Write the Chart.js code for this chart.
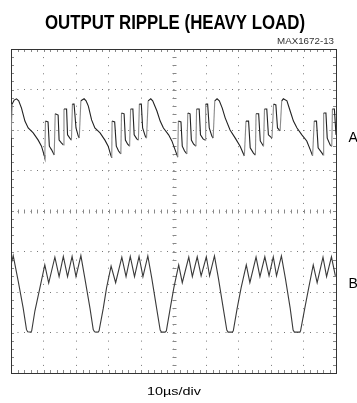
<!DOCTYPE html>
<html>
<head>
<meta charset="utf-8">
<script src="https://cdn.jsdelivr.net/npm/chart.js@4.4.0/dist/chart.umd.min.js"></script>
<style>
  html, body { margin: 0; padding: 0; background: #fff; }
  canvas { display: block; }
</style>
</head>
<body>
<canvas id="ripple" width="357" height="403"></canvas>
<script>
// trace A: time in us, level in divisions (0 = bottom of screen)
let timeA = [0, 0.37, 0.98, 1.69, 2.37, 3.23, 4.28, 5.29, 6.83, 8.37, 9.38, 10.2, 10.4,
    10.6, 11.4, 11.8, 12.5, 13.3,
    13.6, 14.5, 14.8, 15.5, 16.1,
    16.3, 17.1, 17.4, 18.1, 18.6,
    18.9, 19.4, 20.0, 20.7, 21.0,
    21.5, 22.5, 23.1, 23.8, 24.8, 25.8, 27.4, 28.9, 29.9, 30.7, 31.0,
    31.1, 31.9, 32.4, 33.1, 33.8,
    34.0, 34.8, 35.2, 35.9, 36.5,
    36.8, 37.5, 37.9, 38.7, 39.2,
    39.5, 40.1, 40.5, 41.3, 41.7,
    42.2, 43.0, 43.6, 44.9, 45.9, 46.9, 48.5, 49.5, 50.5, 51.3,
    51.5, 52.3, 52.7, 53.4, 54.1,
    54.4, 55.1, 55.5, 56.2, 56.9,
    57.1, 57.9, 58.3, 59.1, 59.7,
    59.9, 60.5, 61.0, 61.8, 62.2,
    62.7, 63.4, 64.1, 65.0, 65.9, 67.4, 69.0, 70.5, 71.8,
    72.3, 73.1, 73.6, 74.6, 75.2,
    75.4, 76.2, 76.7, 77.7,
    78.0, 78.7, 79.2, 80.3,
    80.8, 81.5, 82.0, 82.8,
    83.3, 83.8, 84.9, 85.9, 86.9, 88.0, 89.5, 91.0, 92.1, 92.8,
    93.3, 94.0, 94.5, 95.7, 96.1,
    96.2, 96.9, 97.3, 98.2, 98.7,
    98.9, 99.5, 100];
let levelA = [5.80, 6.64, 6.74, 6.77, 6.72, 6.54, 6.22, 6.05, 5.93, 5.75, 5.60, 5.38, 5.31,
    6.22, 6.20, 5.60, 5.51, 5.38,
    6.40, 6.37, 5.75, 5.68, 5.63,
    6.52, 6.52, 5.88, 5.80, 5.75,
    6.64, 6.64, 6.05, 5.85, 5.80,
    6.72, 6.77, 6.72, 6.59, 6.25, 6.05, 5.93, 5.75, 5.60, 5.38, 5.31,
    6.22, 6.20, 5.60, 5.48, 5.41,
    6.42, 6.40, 5.75, 5.65, 5.60,
    6.52, 6.52, 5.88, 5.78, 5.75,
    6.64, 6.64, 6.05, 5.85, 5.80,
    6.72, 6.77, 6.72, 6.47, 6.22, 6.05, 5.88, 5.73, 5.51, 5.33,
    6.22, 6.20, 5.60, 5.48, 5.41,
    6.42, 6.40, 5.75, 5.65, 5.60,
    6.52, 6.52, 5.88, 5.78, 5.75,
    6.64, 6.64, 6.05, 5.85, 5.80,
    6.72, 6.77, 6.72, 6.54, 6.30, 6.00, 5.80, 5.60, 5.36,
    6.22, 6.22, 5.56, 5.43, 5.38,
    6.40, 6.40, 5.73, 5.60,
    6.52, 6.52, 5.88, 5.80,
    6.64, 6.62, 6.05, 5.98,
    6.72, 6.77, 6.72, 6.47, 6.22, 6.05, 5.88, 5.73, 5.51, 5.36,
    6.22, 6.22, 5.56, 5.43, 5.38,
    6.42, 6.42, 5.80, 5.63, 5.60,
    6.52, 6.52, 5.88];

// trace B
let timeB = [0, 0.68, 2.22, 3.75, 4.77, 5.14, 6.12, 6.37, 7.35, 8.89,
    10.4, 11.6, 13.5, 14.8, 16.1, 17.4, 18.8, 20.0, 21.5,
    22.7, 24.3, 25.3, 25.7, 26.8, 27.1, 28.4, 29.4,
    30.8, 32.2, 34.1, 35.4, 36.7, 38.0, 39.4, 40.6, 42.1,
    43.3, 44.8, 45.9, 46.3, 47.4, 47.8, 49.0, 50.1,
    51.6, 52.7, 54.7, 55.8, 57.3, 58.5, 60.1, 61.1, 62.6,
    63.8, 65.3, 66.4, 66.8, 68.1, 68.4, 69.6, 70.8,
    72.4, 73.5, 75.4, 76.6, 78.1, 79.4, 80.7, 81.7, 83.2,
    84.4, 85.9, 86.8, 87.2, 88.9, 89.1, 90.4, 91.6,
    93.0, 94.2, 96.0, 97.1, 98.6, 99.8];
let levelB = [2.67, 2.90, 2.27, 1.60, 1.07, 1.02, 1.01, 1.04, 1.53, 2.10,
    2.67, 2.22, 2.86, 2.38, 2.88, 2.38, 2.88, 2.38, 2.90,
    2.35, 1.60, 1.07, 1.02, 1.01, 1.04, 1.60, 2.10,
    2.64, 2.23, 2.86, 2.38, 2.88, 2.38, 2.88, 2.38, 2.89,
    2.35, 1.60, 1.06, 1.01, 1.01, 1.04, 1.60, 2.10,
    2.67, 2.23, 2.86, 2.38, 2.87, 2.40, 2.87, 2.40, 2.89,
    2.35, 1.60, 1.06, 1.01, 1.01, 1.04, 1.60, 2.10,
    2.67, 2.23, 2.86, 2.38, 2.87, 2.40, 2.87, 2.40, 2.89,
    2.35, 1.60, 1.06, 1.01, 1.01, 1.04, 1.60, 2.10,
    2.67, 2.23, 2.86, 2.38, 2.87, 2.40];

let title = 'OUTPUT RIPPLE (HEAVY LOAD)';
let figureId = 'MAX1672-13';
let timebase = '10\u00b5s/div';
let traceLabels = ['A', 'B'];
let traceLabelLevels = [5.8, 2.2];

function toPoints(xs, ys) {
    return xs.map((x, i) => ({ x: x, y: ys[i] }));
}

// squeeze a text into a given width (the original uses a narrow face)
function fitText(ctx, str, font, x, y, width) {
    ctx.font = font;
    let w = ctx.measureText(str).width;
    ctx.save();
    ctx.translate(x, y);
    ctx.scale(width / w, 1);
    ctx.textAlign = 'left';
    ctx.textBaseline = 'alphabetic';
    ctx.fillText(str, 0, 0);
    ctx.restore();
}

const scopeDecor = {
    id: 'scopeDecor',
    beforeDatasetsDraw(chart) {
        let ctx = chart.ctx;
        let a = chart.chartArea;
        let xs = chart.scales.x;
        let ys = chart.scales.y;
        ctx.save();
        ctx.strokeStyle = '#888';
        ctx.lineWidth = 1;
        ctx.beginPath();
        let cy = Math.round(ys.getPixelForValue(4)) + 0.5;
        for (let i = 0; i <= 50; i++) {
            let px = Math.round(xs.getPixelForValue(i * 2)) + 0.5;
            ctx.moveTo(px, a.top); ctx.lineTo(px, a.top + 3);
            ctx.moveTo(px, a.bottom); ctx.lineTo(px, a.bottom - 3);
            ctx.moveTo(px, cy - 2); ctx.lineTo(px, cy + 2);
        }
        let cx = Math.round(xs.getPixelForValue(50)) + 0.5;
        for (let i = 0; i <= 40; i++) {
            let py = Math.round(ys.getPixelForValue(i / 5)) + 0.5;
            ctx.moveTo(a.left, py); ctx.lineTo(a.left + 3, py);
            ctx.moveTo(a.right, py); ctx.lineTo(a.right - 3, py);
            ctx.moveTo(cx - 2, py); ctx.lineTo(cx + 2, py);
        }
        ctx.stroke();
        ctx.strokeStyle = '#333';
        ctx.strokeRect(Math.round(a.left) + 0.5, Math.round(a.top) + 0.5,
            Math.round(a.right - a.left), Math.round(a.bottom - a.top));
        ctx.restore();
    },
    afterDraw(chart) {
        let ctx = chart.ctx;
        let ys = chart.scales.y;
        ctx.save();
        ctx.fillStyle = '#000';
        fitText(ctx, title, 'bold 19.5px "Liberation Sans"', 45, 29, 260);
        ctx.fillStyle = '#333';
        fitText(ctx, figureId, '8.5px "Liberation Sans"', 277, 43.5, 57);
        ctx.fillStyle = '#000';
        fitText(ctx, timebase, '11.5px "Liberation Sans"', 147, 395, 54);
        ctx.font = '14px "Liberation Sans"';
        ctx.textBaseline = 'middle';
        ctx.textAlign = 'left';
        traceLabels.forEach((t, i) => {
            ctx.fillText(t, chart.chartArea.right + 12.5, ys.getPixelForValue(traceLabelLevels[i]));
        });
        ctx.restore();
    }
};

let ctx = document.getElementById('ripple').getContext('2d');
new Chart(ctx, {
    type: 'line',
    data: {
        datasets: [{
            label: 'A',
            data: toPoints(timeA, levelA),
            borderColor: '#222',
            borderWidth: 1.1,
            pointRadius: 0,
            tension: 0,
            segment: {
                // fast rising edges look fainter on the scope
                borderColor: c => (c.p1.parsed.y - c.p0.parsed.y > 0.4 && c.p1.parsed.x - c.p0.parsed.x < 0.7) ? '#8a8a8a' : '#222'
            }
        }, {
            label: 'B',
            data: toPoints(timeB, levelB),
            borderColor: '#3a3a3a',
            borderWidth: 1.1,
            pointRadius: 0,
            tension: 0
        }]
    },
    options: {
        responsive: false,
        animation: false,
        layout: {
            padding: { left: 11, right: 21, top: 49, bottom: 30 }
        },
        scales: {
            x: {
                type: 'linear',
                min: 0,
                max: 100,
                ticks: { display: false, stepSize: 10 },
                grid: { color: '#777', lineWidth: 1, drawTicks: false },
                border: { display: false, dash: [1, 7.1] }
            },
            y: {
                type: 'linear',
                min: 0,
                max: 8,
                ticks: { display: false, stepSize: 1 },
                grid: { color: '#777', lineWidth: 1, drawTicks: false },
                border: { display: false, dash: [1, 5.5] }
            }
        },
        plugins: {
            legend: { display: false },
            tooltip: { enabled: false }
        }
    },
    plugins: [scopeDecor]
});
</script>
</body>
</html>
